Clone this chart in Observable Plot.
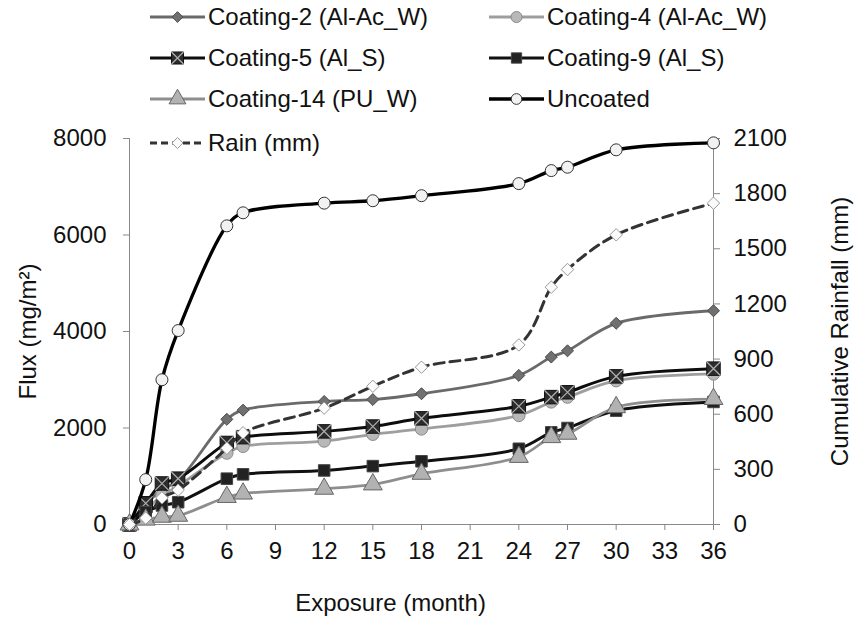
<!DOCTYPE html>
<html>
<head>
<meta charset="utf-8">
<script src="https://cdn.jsdelivr.net/npm/d3@7"></script>
<script src="https://cdn.jsdelivr.net/npm/@observablehq/plot@0.6"></script>
<style>
  html, body { margin: 0; padding: 0; background: #fff; }
  #chart svg { display: block; }
  #chart [aria-label="x-axis tick"] path,
  #chart [aria-label="y-axis tick"] path { stroke: #888; }
</style>
</head>
<body>
<div id="chart"></div>
<script>
// ---- data ----
const months    = [0, 1, 2, 3, 6, 7, 12, 15, 18, 24, 26, 27, 30, 36];
const coating2  = [0, 420, 720, 910, 2180, 2370, 2550, 2590, 2710, 3090, 3470, 3600, 4170, 4430];
const coating4  = [0, 300, 600, 800, 1480, 1620, 1730, 1870, 1980, 2260, 2540, 2640, 2980, 3120];
const coating5  = [0, 440, 850, 950, 1690, 1810, 1930, 2030, 2200, 2450, 2640, 2740, 3070, 3230];
const coating9  = [0, 256, 394, 462, 950, 1040, 1120, 1210, 1310, 1570, 1910, 2000, 2360, 2540];
const coating14 = [0, 100, 160, 180, 570, 640, 740, 830, 1050, 1400, 1810, 1880, 2430, 2600];
const uncoated  = [0, 930, 3000, 4020, 6190, 6460, 6660, 6710, 6815, 7065, 7335, 7405, 7765, 7910];
const rain      = [0, 35, 145, 187, 415, 499, 633, 752, 856, 977, 1291, 1387, 1576, 1748];

const seriesNames = ["Coating-2 (Al-Ac_W)", "Coating-4 (Al-Ac_W)", "Coating-5 (Al_S)",
                     "Coating-9 (Al_S)", "Coating-14 (PU_W)", "Uncoated", "Rain (mm)"];
const xTicks    = [0, 3, 6, 9, 12, 15, 18, 21, 24, 27, 30, 33, 36];
const fluxTicks = [0, 2000, 4000, 6000, 8000];
const rainTicks = [0, 300, 600, 900, 1200, 1500, 1800, 2100];

// ---- styles ----
const FLUX_MAX = 8000, RAIN_MAX = 2100;
const k = FLUX_MAX / RAIN_MAX;
const FONT = "'Liberation Sans', Arial, sans-serif";
const FS = 24;

const styles = [
  {values: coating2,  scale: 1, stroke: "#6a6a6a", sw: 2.8, symbol: "diamond2", fill: "#707070", mstroke: "#4a4a4a", r: 5.4},
  {values: coating4,  scale: 1, stroke: "#9e9e9e", sw: 2.8, symbol: "circle",   fill: "#b8b8b8", mstroke: "#8a8a8a", r: 6.2},
  {values: coating5,  scale: 1, stroke: "#0d0d0d", sw: 3,   symbol: "square",   fill: "#2c2c2c", mstroke: "#111",    r: 7.6, times: true},
  {values: coating9,  scale: 1, stroke: "#111",    sw: 3,   symbol: "square",   fill: "#222",    mstroke: "#444",    r: 6.5},
  {values: coating14, scale: 1, stroke: "#8e8e8e", sw: 2.8, symbol: "triangle", fill: "#b2b2b2", mstroke: "#666",    r: 7},
  {values: uncoated,  scale: 1, stroke: "#000",    sw: 3.3, symbol: "circle",   fill: "#f2f2f2", mstroke: "#333",    r: 6},
  {values: rain,      scale: k, stroke: "#333",    sw: 3,   symbol: "diamond2", fill: "#fbfbfb", mstroke: "#999",    r: 5.6, dash: "10,6"}
];
styles.forEach((s, i) => s.name = seriesNames[i]);

const marks = [
  Plot.ruleY([0], {stroke: "#888"}),
  Plot.ruleX([0], {stroke: "#888"}),
  Plot.ruleX([36], {stroke: "#888"}),
  Plot.axisX(xTicks, {tickSize: 6, tickPadding: 11, label: null, tickFormat: d => String(d)}),
  Plot.axisY(fluxTicks, {anchor: "left", tickSize: 6, tickPadding: 17, label: null, tickFormat: d => String(d)}),
  Plot.axisY(rainTicks.map(v => v * k), {anchor: "right", tickSize: 6, tickPadding: 14, label: null,
    tickFormat: d => String(Math.round(d / k))}),
  Plot.text(["Exposure (month)"], {frameAnchor: "bottom", dx: -31, dy: 86, fontSize: FS, textAnchor: "middle"}),
  Plot.text(["Flux (mg/m²)"], {frameAnchor: "left", dx: -101, rotate: -90, fontSize: FS, textAnchor: "middle"}),
  Plot.text(["Cumulative Rainfall (mm)"], {frameAnchor: "right", dx: 127, rotate: -90, fontSize: FS, textAnchor: "middle"})
];

for (const s of styles) {
  const data = months.map((m, i) => ({month: m, v: s.values[i] * s.scale}));
  marks.push(Plot.line(data, {x: "month", y: "v", curve: "catmull-rom", stroke: s.stroke,
    strokeWidth: s.sw, strokeDasharray: s.dash || null, strokeLinejoin: "round"}));
  marks.push(Plot.dot(data, {x: "month", y: "v", symbol: s.symbol, r: s.r, fill: s.fill,
    stroke: s.mstroke, strokeWidth: 1}));
  if (s.times) {
    marks.push(Plot.dot(data, {x: "month", y: "v", symbol: "times", r: 6.3, stroke: "#b0b0b0", strokeWidth: 1.2}));
  }
}

const chart = Plot.plot({
  width: 855,
  height: 622,
  marginLeft: 129,
  marginRight: 142,
  marginTop: 138,
  marginBottom: 98,
  style: {fontFamily: FONT, fontSize: FS + "px", color: "#111", background: "#fff", overflow: "visible"},
  x: {domain: [0, 36], axis: null},
  y: {domain: [0, FLUX_MAX], axis: null},
  marks
});
document.getElementById("chart").appendChild(chart);

// ---- legend (drawn into the same SVG) ----
const svg = d3.select(chart);
const lg = svg.append("g").attr("font-family", FONT).attr("font-size", FS).attr("text-anchor", "start");
const symMap = {diamond2: d3.symbolDiamond2, circle: d3.symbolCircle, square: d3.symbolSquare,
                triangle: d3.symbolTriangle, times: d3.symbolTimes};
const cols = [150, 489];
const rows = [17, 58, 99, 143];
styles.forEach((s, i) => {
  const x0 = cols[i % 2], y0 = rows[Math.floor(i / 2)];
  const g = lg.append("g");
  g.append("line").attr("x1", x0).attr("x2", x0 + 55).attr("y1", y0).attr("y2", y0)
    .attr("stroke", s.stroke).attr("stroke-width", s.sw).attr("stroke-dasharray", s.dash ? "7,4" : null);
  g.append("path").attr("transform", `translate(${x0 + 27.5},${y0})`)
    .attr("d", d3.symbol(symMap[s.symbol], s.r * s.r * Math.PI * 0.8)())
    .attr("fill", s.fill).attr("stroke", s.mstroke);
  if (s.times) {
    g.append("path").attr("transform", `translate(${x0 + 27.5},${y0})`)
      .attr("d", d3.symbol(d3.symbolTimes, 30 * Math.PI)())
      .attr("fill", "none").attr("stroke", "#b0b0b0").attr("stroke-width", 1.2);
  }
  g.append("text").attr("x", x0 + 58).attr("y", y0).attr("dy", "0.35em")
    .attr("fill", "#111").text(s.name);
});
</script>
</body>
</html>
